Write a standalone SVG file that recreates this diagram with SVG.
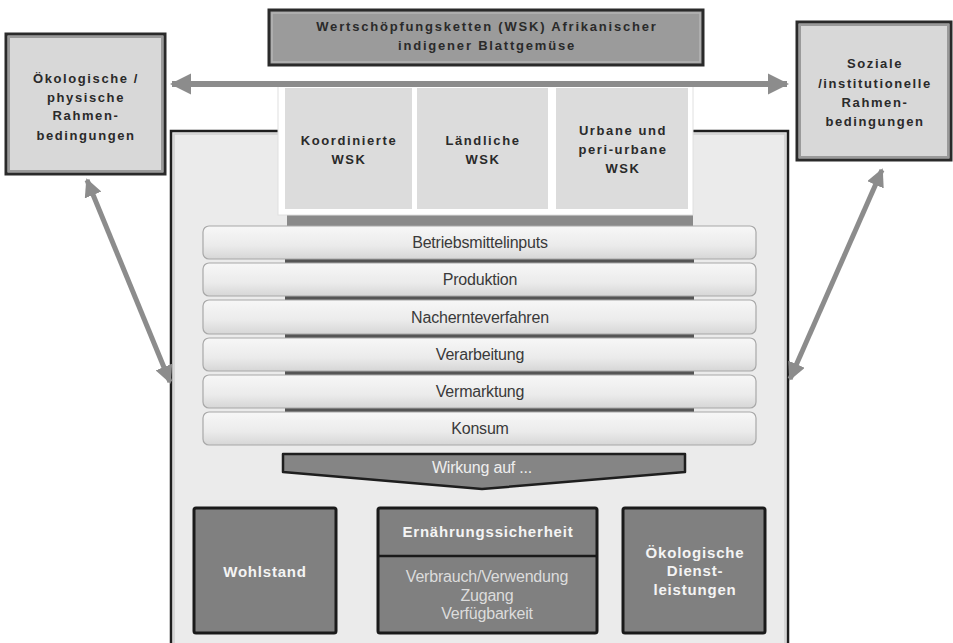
<svg xmlns="http://www.w3.org/2000/svg" width="953" height="643" viewBox="0 0 953 643">
<defs>
<linearGradient id="bar" x1="0" y1="0" x2="0" y2="1">
<stop offset="0" stop-color="#f7f7f7"/>
<stop offset="0.6" stop-color="#ebebeb"/>
<stop offset="1" stop-color="#d6d6d6"/>
</linearGradient>
<marker id="ah" viewBox="0 0 10 10" refX="9" refY="5" markerWidth="3.6" markerHeight="3.6" markerUnits="strokeWidth" orient="auto-start-reverse">
<path d="M0,0 L10,5 L0,10 z" fill="#8c8c8c"/>
</marker>
</defs>
<style>
.side{fill:#d8d8d8;stroke:#2a2a2a;stroke-width:3}
.sidein{fill:none;stroke:#9a9a9a;stroke-width:2}
.bt{font-family:"Liberation Sans",Arial,sans-serif;font-weight:bold;font-size:13px;fill:#2a2a2a;text-anchor:middle;letter-spacing:1.6px}
.st{font-family:"Liberation Sans",Arial,sans-serif;font-size:16px;fill:#3a3a3a;text-anchor:middle;letter-spacing:-0.2px}
.wt{font-family:"Liberation Sans",Arial,sans-serif;font-weight:bold;font-size:15px;fill:#f4f4f4;text-anchor:middle;letter-spacing:0.8px}
.lt{font-family:"Liberation Sans",Arial,sans-serif;font-size:16px;fill:#dcdcdc;text-anchor:middle;letter-spacing:-0.2px}
.dark{fill:#808080;stroke:#1a1a1a;stroke-width:3}
.stage{fill:url(#bar);stroke:#a8a8a8;stroke-width:1.2}
.conn{stroke:#8c8c8c;fill:none}
</style>
<rect width="953" height="643" fill="#ffffff"/>

<g id="container">
<rect x="171" y="131" width="617" height="520" fill="#ebebeb" stroke="#1e1e1e" stroke-width="2.5"/>
<rect x="174" y="134" width="611" height="515" fill="none" stroke="#cfcfcf" stroke-width="1.5"/>
</g>

<g id="title">
<rect x="269" y="10" width="434" height="55" fill="#9b9b9b" stroke="#2a2a2a" stroke-width="3"/>
<rect x="272" y="13" width="428" height="49" fill="none" stroke="#b5b5b5" stroke-width="1.5"/>
<text class="bt" x="487" y="31" style="letter-spacing:1.8px">Wertschöpfungsketten (WSK) Afrikanischer</text>
<text class="bt" x="487" y="50" style="letter-spacing:1.8px">indigener Blattgemüse</text>
</g>

<g id="left-box">
<rect class="side" x="6" y="34" width="159" height="140"/>
<rect class="sidein" x="9" y="37" width="153" height="134"/>
<text class="bt" x="86" y="83">Ökologische /</text>
<text class="bt" x="86" y="102">physische</text>
<text class="bt" x="86" y="120">Rahmen-</text>
<text class="bt" x="86" y="140">bedingungen</text>
</g>

<g id="right-box">
<rect class="side" x="797" y="22" width="154" height="138"/>
<rect class="sidein" x="800" y="25" width="148" height="132"/>
<text class="bt" x="875" y="68">Soziale</text>
<text class="bt" x="875" y="88">/institutionelle</text>
<text class="bt" x="875" y="107">Rahmen-</text>
<text class="bt" x="875" y="126">bedingungen</text>
</g>

<g id="wsk">
<rect x="287" y="205" width="406" height="22" fill="#8a8a8a"/>
<rect x="278" y="83" width="415" height="132" fill="#ffffff" stroke="#e0e0e0" stroke-width="1"/>
<g id="wsk-koordinierte">
<rect x="285" y="88" width="127" height="121" fill="#dcdcdc"/>
<text class="bt" x="349" y="145">Koordinierte</text>
<text class="bt" x="349" y="164">WSK</text>
</g>
<g id="wsk-laendliche">
<rect x="417" y="88" width="131" height="121" fill="#dcdcdc"/>
<text class="bt" x="483" y="145">Ländliche</text>
<text class="bt" x="483" y="164">WSK</text>
</g>
<g id="wsk-urban">
<rect x="556" y="88" width="132" height="121" fill="#dcdcdc"/>
<text class="bt" x="623" y="135">Urbane und</text>
<text class="bt" x="623" y="154">peri-urbane</text>
<text class="bt" x="623" y="173">WSK</text>
</g>
</g>

<g id="stages">
<rect x="285" y="257" width="409" height="6" fill="#555"/>
<rect x="285" y="294" width="409" height="6" fill="#555"/>
<rect x="285" y="332" width="409" height="6" fill="#555"/>
<rect x="285" y="369" width="409" height="6" fill="#555"/>
<rect x="285" y="406" width="409" height="6" fill="#555"/>
<g id="stage-1"><rect class="stage" x="203" y="226" width="553" height="33" rx="6"/><text class="st" x="480" y="248">Betriebsmittelinputs</text></g>
<g id="stage-2"><rect class="stage" x="203" y="263" width="553" height="33" rx="6"/><text class="st" x="480" y="285">Produktion</text></g>
<g id="stage-3"><rect class="stage" x="203" y="300" width="553" height="34" rx="6"/><text class="st" x="480" y="323">Nachernteverfahren</text></g>
<g id="stage-4"><rect class="stage" x="203" y="338" width="553" height="33" rx="6"/><text class="st" x="480" y="360">Verarbeitung</text></g>
<g id="stage-5"><rect class="stage" x="203" y="375" width="553" height="33" rx="6"/><text class="st" x="480" y="397">Vermarktung</text></g>
<g id="stage-6"><rect class="stage" x="203" y="412" width="553" height="33" rx="6"/><text class="st" x="480" y="434">Konsum</text></g>
</g>

<g id="wirkung">
<path d="M283,454 L685,454 L685,472 L482,489 L283,472 Z" fill="#858585" stroke="#1e1e1e" stroke-width="2.5" stroke-linejoin="round"/>
<text class="lt" x="482" y="473" style="fill:#eeeeee">Wirkung auf ...</text>
</g>

<g id="wohlstand">
<rect class="dark" x="194" y="508" width="142" height="125" rx="2"/>
<text class="wt" x="265" y="577">Wohlstand</text>
</g>

<g id="ernaehrung">
<rect class="dark" x="378" y="508" width="219" height="125" rx="2"/>
<line x1="378" y1="556" x2="597" y2="556" stroke="#1a1a1a" stroke-width="2.5"/>
<text class="wt" x="488" y="537">Ernährungssicherheit</text>
<text class="lt" x="487" y="582">Verbrauch/Verwendung</text>
<text class="lt" x="487" y="601">Zugang</text>
<text class="lt" x="487" y="619">Verfügbarkeit</text>
</g>

<g id="oekologisch">
<rect class="dark" x="623" y="508" width="142" height="125" rx="2"/>
<text class="wt" x="695" y="558">Ökologische</text>
<text class="wt" x="695" y="576">Dienst-</text>
<text class="wt" x="695" y="595">leistungen</text>
</g>

<g id="connectors">
<line class="conn" x1="172" y1="84" x2="787" y2="84" stroke-width="6" marker-start="url(#ah)" marker-end="url(#ah)"/>
<line class="conn" x1="87" y1="180" x2="170" y2="382" stroke-width="5" marker-start="url(#ah)" marker-end="url(#ah)"/>
<line class="conn" x1="882" y1="170" x2="790" y2="379" stroke-width="5" marker-start="url(#ah)" marker-end="url(#ah)"/>
</g>
</svg>
